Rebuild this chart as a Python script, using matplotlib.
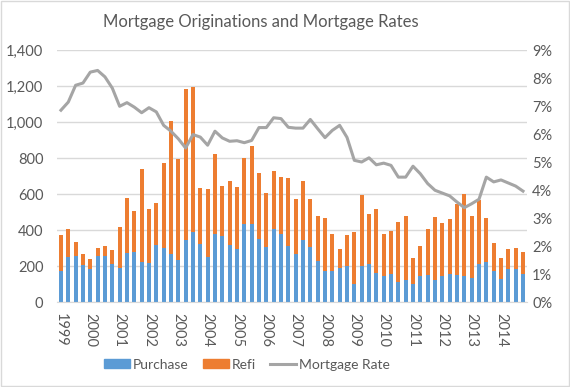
import matplotlib
matplotlib.use("Agg")
import matplotlib.pyplot as plt
import numpy as np
from matplotlib.patches import Rectangle
from matplotlib.lines import Line2D
from matplotlib.ticker import FuncFormatter

years = [str(y) for y in range(1999, 2015)]
purchase = [170, 250, 256, 207, 185, 254, 257, 213,
            191, 272, 278, 224, 219, 317, 302, 265,
            233, 346, 387, 322, 250, 378, 365, 315,
            293, 433, 433, 352, 304, 407, 378, 311,
            265, 344, 304, 230, 170, 174, 189, 202,
            100, 198, 213, 159, 146, 156, 113, 124,
            102, 143, 148, 124, 143, 157, 152, 143,
            133, 213, 220, 174, 126, 181, 185, 154]
total = [374, 406, 335, 267, 239, 302, 311, 289,
         419, 578, 506, 739, 517, 552, 772, 1007,
         793, 1182, 1193, 633, 626, 822, 644, 672,
         641, 798, 867, 717, 607, 728, 696, 689,
         570, 672, 574, 480, 465, 378, 296, 370,
         389, 594, 491, 519, 378, 394, 443, 480,
         246, 311, 407, 472, 437, 461, 544, 598,
         476, 567, 467, 328, 246, 296, 300, 280]
refi = [t - p for t, p in zip(total, purchase)]
rate = [6.85, 7.14, 7.74, 7.82, 8.21, 8.27, 8.04, 7.64,
        6.99, 7.12, 6.96, 6.76, 6.94, 6.79, 6.31, 6.10,
        5.83, 5.50, 5.98, 5.89, 5.60, 6.10, 5.86, 5.74,
        5.76, 5.69, 5.77, 6.23, 6.23, 6.58, 6.55, 6.24,
        6.21, 6.21, 6.52, 6.19, 5.87, 6.13, 6.31, 5.88,
        5.06, 5.00, 5.15, 4.90, 4.96, 4.88, 4.46, 4.46,
        4.85, 4.58, 4.23, 3.99, 3.89, 3.79, 3.57, 3.37,
        3.51, 3.67, 4.46, 4.29, 4.36, 4.25, 4.14, 3.96]

plt.rcParams['font.family'] = ['Lato', 'DejaVu Sans']
txt = '#595959'
blue = '#5B9BD5'
orange = '#ED7D31'
gray = '#A5A5A5'

fig = plt.figure(figsize=(5.7, 3.87), dpi=100)
ax = fig.add_axes([0.1005, 0.2196, 0.8235, 0.6512])
x = np.arange(len(purchase))
ax.bar(x, purchase, width=0.55, color=blue, zorder=2)
ax.bar(x, refi, width=0.55, bottom=purchase, color=orange, zorder=2)
ax.set_xlim(-0.5, len(purchase) - 0.5)
ax.set_ylim(0, 1400)
ax.set_yticks(range(0, 1401, 200))
ax.yaxis.set_major_formatter(FuncFormatter(lambda v, p: f"{int(v):,}"))
ax.grid(axis='y', color='#D9D9D9', linewidth=1, zorder=0)
ax.set_axisbelow(True)
for s in ['top', 'right', 'left']:
    ax.spines[s].set_visible(False)
ax.spines['bottom'].set_color('#D9D9D9')
ax.set_xticks(x[::4])
ax.set_xticklabels(years, rotation=-90, va='top', ha='center')
ax.tick_params(axis='both', length=0, colors=txt, labelsize=10.5)
ax.tick_params(axis='x', pad=8)
ax.tick_params(axis='y', pad=10)

ax2 = ax.twinx()
ax2.plot(x, rate, color=gray, linewidth=2.2, zorder=3)
ax2.set_ylim(0, 9)
ax2.set_yticks(range(0, 10))
ax2.yaxis.set_major_formatter(FuncFormatter(lambda v, p: f"{int(v)}%"))
ax2.tick_params(axis='y', length=0, colors=txt, labelsize=10.5, pad=4)
for s in ax2.spines.values():
    s.set_visible(False)

fig.text(0.458, 0.943, 'Mortgage Originations and Mortgage Rates', ha='center',
         va='center', fontsize=12, color=txt)

handles = [Rectangle((0, 0), 1, 1, color=blue), Rectangle((0, 0), 1, 1, color=orange),
           Line2D([0], [0], color=gray, linewidth=2.2)]
fig.legend(handles, ['Purchase', 'Refi', 'Mortgage Rate'], loc='center',
           bbox_to_anchor=(0.433, 0.058), ncol=3, frameon=False, fontsize=10,
           labelcolor=txt, handlelength=1.9, handleheight=0.6, handletextpad=0.2,
           columnspacing=1.0)

fig.patches.append(Rectangle((0.002, 0.003), 0.996, 0.994, transform=fig.transFigure,
                             fill=False, edgecolor='#D9D9D9', linewidth=1))
fig.savefig('out.png', dpi=100)
